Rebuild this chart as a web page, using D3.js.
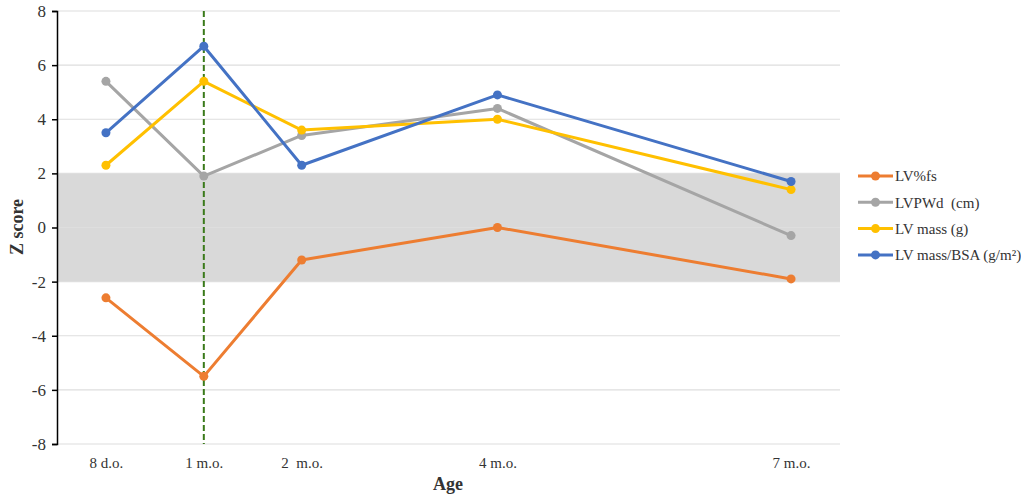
<!DOCTYPE html>
<html>
<head>
<meta charset="utf-8">
<script src="https://d3js.org/d3.v7.min.js"></script>
<style>
body { margin: 0; background: #fff; }
svg text { font-family: "Liberation Serif", "Times New Roman", serif; }
</style>
</head>
<body>
<svg width="1021" height="502"></svg>
<script>
// months since birth (8 d.o. drawn at 0, like the original axis)
const ages = [0, 1, 2, 4, 7];
const ageLabels = ["8 d.o.", "1 m.o.", "2\u00a0 m.o.", "4 m.o.", "7 m.o."];

const fs      = [-2.6, -5.5, -1.2, 0.0, -1.9];
const pwd     = [5.4, 1.9, 3.4, 4.4, -0.3];
const mass    = [2.3, 5.4, 3.6, 4.0, 1.4];
const massBsa = [3.5, 6.7, 2.3, 4.9, 1.7];

const yTicks = [-8, -6, -4, -2, 0, 2, 4, 6, 8];
const normalBand = [-2, 2];
const markerAge = 1;

const series = [
  { name: "LV%fs", values: fs, color: "#ED7D31" },
  { name: "LVPWd\u00a0 (cm)", values: pwd, color: "#A5A5A5" },
  { name: "LV mass (g)", values: mass, color: "#FFC000" },
  { name: "LV mass/BSA (g/m\u00b2)", values: massBsa, color: "#4472C4" }
];

const serif = "'Liberation Serif', 'Times New Roman', serif";
const svg = d3.select("svg");
const m = { left: 57, right: 840, top: 11, bottom: 444 };

const x = d3.scaleLinear().domain([-0.5, 7.5]).range([m.left, m.right]);
const y = d3.scaleLinear().domain([-8, 8]).range([m.bottom, m.top]);

// normal range band
svg.append("rect")
  .attr("x", m.left).attr("width", m.right - m.left)
  .attr("y", y(normalBand[1])).attr("height", y(normalBand[0]) - y(normalBand[1]))
  .attr("fill", "#d9d9d9");

// gridlines
svg.append("g").selectAll("line")
  .data(yTicks)
  .join("line")
  .attr("x1", m.left).attr("x2", m.right)
  .attr("y1", d => y(d)).attr("y2", d => y(d))
  .attr("stroke", "#dedede").attr("stroke-width", 1.2);

// y axis
const yAxis = svg.append("g")
  .attr("transform", `translate(${m.left},0)`)
  .call(d3.axisLeft(y).tickValues(yTicks).tickSize(5).tickPadding(6).tickFormat(d => String(d)));
yAxis.attr("font-family", serif).attr("font-size", 17);
yAxis.selectAll("text").attr("fill", "#333");
yAxis.select(".domain").attr("stroke", "#000").attr("stroke-width", 1.5);
yAxis.selectAll(".tick line").attr("stroke", "#000").attr("stroke-width", 1.5);

// x axis labels (no line)
const xAxis = svg.append("g")
  .attr("transform", `translate(0,${m.bottom})`)
  .call(d3.axisBottom(x).tickValues(ages).tickSize(0).tickPadding(13)
    .tickFormat((d, i) => ageLabels[i]));
xAxis.attr("font-family", serif).attr("font-size", 15);
xAxis.selectAll("text").attr("fill", "#333");
xAxis.select(".domain").remove();

// dashed marker line
svg.append("line")
  .attr("x1", x(markerAge)).attr("x2", x(markerAge))
  .attr("y1", m.top).attr("y2", m.bottom)
  .attr("stroke", "#3a7a1a").attr("stroke-width", 2)
  .attr("stroke-dasharray", "6,3");

const line = d3.line().x((d, i) => x(ages[i])).y(d => y(d));

const g = svg.append("g");
series.forEach(s => {
  g.append("path")
    .attr("d", line(s.values))
    .attr("fill", "none")
    .attr("stroke", s.color)
    .attr("stroke-width", 3)
    .attr("stroke-linejoin", "round");
  g.selectAll(null)
    .data(s.values)
    .join("circle")
    .attr("cx", (d, i) => x(ages[i]))
    .attr("cy", d => y(d))
    .attr("r", 4.5)
    .attr("fill", s.color);
});

// axis titles
svg.append("text")
  .attr("x", 448).attr("y", 490)
  .attr("font-size", 18).attr("font-weight", "bold").attr("fill", "#333")
  .attr("text-anchor", "middle").text("Age");
svg.append("text")
  .attr("transform", "translate(23,227) rotate(-90)")
  .attr("font-size", 18).attr("font-weight", "bold").attr("fill", "#333")
  .attr("text-anchor", "middle").text("Z score");

// legend
const legend = svg.append("g")
  .attr("transform", "translate(858,176)");
const item = legend.selectAll("g")
  .data(series)
  .join("g")
  .attr("transform", (d, i) => `translate(0,${i * 26.3})`);
item.append("line")
  .attr("x1", 0).attr("x2", 35)
  .attr("stroke", d => d.color).attr("stroke-width", 3);
item.append("circle")
  .attr("cx", 17.5).attr("r", 4.5)
  .attr("fill", d => d.color);
item.append("text")
  .attr("x", 37).attr("dy", "0.35em")
  .attr("font-size", 15).attr("fill", "#333")
  .text(d => d.name);
</script>
</body>
</html>
